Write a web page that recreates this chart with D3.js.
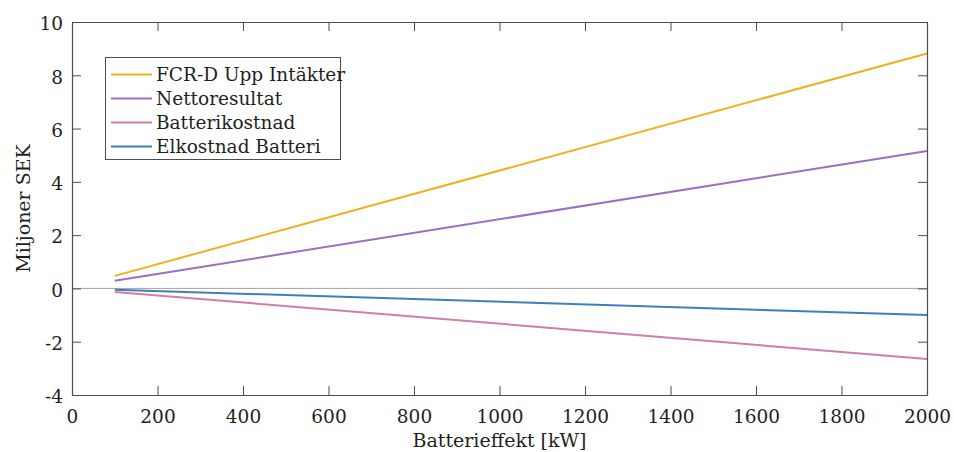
<!DOCTYPE html>
<html>
<head>
<meta charset="utf-8">
<script src="https://cdn.jsdelivr.net/npm/d3@7"></script>
<style>
  body { margin: 0; background: #fff; }
  svg { display: block; }
  text { font-family: "DejaVu Serif", serif; fill: #1f1f1f; }
</style>
</head>
<body>
<svg id="chart" width="954" height="452"></svg>
<script>
// Data
const power = [100, 2000];
const fcrIntakter = [0.47, 8.82];
const nettoresultat = [0.29, 5.16];
const batterikostnad = [-0.13, -2.65];
const elkostnad = [-0.05, -1.0];
const seriesNames = ["FCR-D Upp Intäkter", "Nettoresultat", "Batterikostnad", "Elkostnad Batteri"];
const seriesColors = ["#EDB120", "#9A6FC4", "#CE7FB0", "#3D80B8"];
const xTicks = [0, 200, 400, 600, 800, 1000, 1200, 1400, 1600, 1800, 2000];
const yTicks = [-4, -2, 0, 2, 4, 6, 8, 10];

const seriesValues = [fcrIntakter, nettoresultat, batterikostnad, elkostnad];

const svg = d3.select("#chart");
const m = { left: 72, top: 22, right: 927, bottom: 395 };
const x = d3.scaleLinear().domain([0, 2000]).range([m.left, m.right]);
const y = d3.scaleLinear().domain([-4, 10]).range([m.bottom, m.top]);

const axisColor = "#4d4d4d";
const fs = 18.5;
const fmt = d => String(d);

// zero line
svg.append("line")
  .attr("x1", x(0)).attr("x2", x(2000))
  .attr("y1", y(0)).attr("y2", y(0))
  .attr("stroke", "#a6a6a6").attr("stroke-width", 1);

// lines
const line = d3.line().x(d => x(d[0])).y(d => y(d[1]));
seriesValues.forEach((vals, i) => {
  svg.append("path")
    .datum(power.map((p, j) => [p, vals[j]]))
    .attr("d", line)
    .attr("fill", "none")
    .attr("stroke", seriesColors[i])
    .attr("stroke-width", 2);
});

// axes
const tickLen = 9;
const xb = svg.append("g").attr("transform", `translate(0,${m.bottom})`)
  .call(d3.axisBottom(x).tickValues(xTicks).tickFormat(fmt).tickSize(-tickLen).tickPadding(15).tickSizeOuter(0));
const xt = svg.append("g").attr("transform", `translate(0,${m.top})`)
  .call(d3.axisTop(x).tickValues(xTicks).tickSize(-tickLen).tickFormat("").tickSizeOuter(0));
const yl = svg.append("g").attr("transform", `translate(${m.left},0)`)
  .call(d3.axisLeft(y).tickValues(yTicks).tickFormat(fmt).tickSize(-tickLen).tickPadding(9).tickSizeOuter(0));
const yr = svg.append("g").attr("transform", `translate(${m.right},0)`)
  .call(d3.axisRight(y).tickValues(yTicks).tickSize(-tickLen).tickFormat("").tickSizeOuter(0));

[xb, xt, yl, yr].forEach(g => {
  g.select(".domain").attr("stroke", axisColor).attr("stroke-width", 1.2);
  g.selectAll(".tick line").attr("stroke", axisColor).attr("stroke-width", 1);
  g.selectAll("text").style("font-family", '"DejaVu Serif", serif').style("font-size", fs + "px").attr("fill", "#1f1f1f");
});
yl.selectAll("text").attr("dy", "0.42em");

// axis labels
svg.append("text")
  .attr("x", (m.left + m.right) / 2).attr("y", 447)
  .attr("text-anchor", "middle").style("font-size", "19px")
  .text("Batterieffekt [kW]");
svg.append("text")
  .attr("transform", `translate(30,${(m.top + m.bottom) / 2}) rotate(-90)`)
  .attr("text-anchor", "middle").style("font-size", "19px")
  .text("Miljoner SEK");

// legend
const lg = svg.append("g");
lg.append("rect")
  .attr("x", 105.5).attr("y", 57.5).attr("width", 235).attr("height", 102)
  .attr("fill", "#fff").attr("stroke", axisColor).attr("stroke-width", 1);
seriesNames.forEach((name, i) => {
  const yy = 74.5 + i * 24;
  lg.append("line").attr("x1", 111).attr("x2", 152).attr("y1", yy).attr("y2", yy)
    .attr("stroke", seriesColors[i]).attr("stroke-width", 2);
  lg.append("text").attr("x", 156).attr("y", yy + 6.5)
    .style("font-size", fs + "px").text(name);
});
</script>
</body>
</html>
